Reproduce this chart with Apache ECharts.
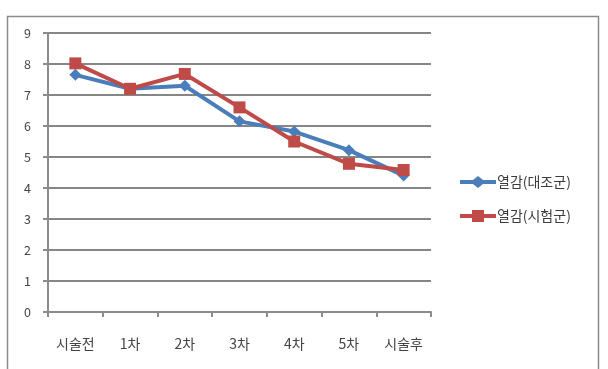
<!DOCTYPE html>
<html>
<head>
<meta charset="utf-8">
<script src="https://cdn.jsdelivr.net/npm/echarts@6/dist/echarts.min.js"></script>
<style>
  html, body { margin: 0; padding: 0; background: #fff; }
  #chart { width: 608px; height: 369px; }
</style>
</head>
<body>
<div id="chart"></div>
<script>
const categories = ["시술전", "1차", "2차", "3차", "4차", "5차", "시술후"];
const controlValues = [7.65, 7.2, 7.3, 6.15, 5.82, 5.22, 4.4];
const testValues = [8.02, 7.2, 7.68, 6.6, 5.5, 4.78, 4.58];
const seriesNames = ["열감(대조군)", "열감(시험군)"];

const chart = echarts.init(document.getElementById("chart"));
const font = "'Noto Sans CJK KR', sans-serif";

chart.setOption({
  animation: false,
  graphic: [{
    type: "rect",
    shape: { x: 7.5, y: 16.5, width: 591, height: 380 },
    style: { fill: "none", stroke: "#8c8c8c", lineWidth: 1.5 },
    silent: true
  }],
  grid: { left: 48, right: 177, top: 33, bottom: 57 },
  legend: {
    orient: "vertical",
    left: 455,
    top: 170,
    itemWidth: 36,
    itemHeight: 12,
    itemGap: 20,
    textStyle: { fontFamily: font, fontSize: 14, color: "#3c3c3c", padding: [0, 0, 0, -4] },
    data: [
      { name: seriesNames[0], icon: "path://M0,4L13,4L18,0L23,4L36,4L36,8L23,8L18,12L13,8L0,8Z" },
      { name: seriesNames[1], icon: "path://M0,4L12,4L12,0L24,0L24,4L36,4L36,8L24,8L24,12L12,12L12,8L0,8Z" }
    ]
  },
  xAxis: {
    type: "category",
    data: categories,
    boundaryGap: true,
    axisLine: { lineStyle: { color: "#8c8c8c", width: 2 } },
    axisTick: { show: true, alignWithLabel: false, length: 5, lineStyle: { color: "#8c8c8c", width: 2 } },
    axisLabel: { fontFamily: font, fontSize: 14, color: "#444", margin: 25 }
  },
  yAxis: {
    type: "value",
    min: 0,
    max: 9,
    interval: 1,
    axisLine: { show: true, lineStyle: { color: "#8c8c8c", width: 2 } },
    axisTick: { show: true, length: 5, lineStyle: { color: "#8c8c8c", width: 2 } },
    axisLabel: { fontFamily: font, fontSize: 12.5, color: "#444", margin: 17 },
    splitLine: { lineStyle: { color: "#868686", width: 2 } }
  },
  series: [
    {
      name: seriesNames[0],
      type: "line",
      data: controlValues,
      symbol: "diamond",
      symbolSize: 12,
      lineStyle: { color: "#4a7ebb", width: 4 },
      itemStyle: { color: "#4a7ebb" },
      z: 2
    },
    {
      name: seriesNames[1],
      type: "line",
      data: testValues,
      symbol: "rect",
      symbolSize: 12,
      lineStyle: { color: "#be4b48", width: 4 },
      itemStyle: { color: "#be4b48" },
      z: 3
    }
  ]
});
</script>
</body>
</html>
